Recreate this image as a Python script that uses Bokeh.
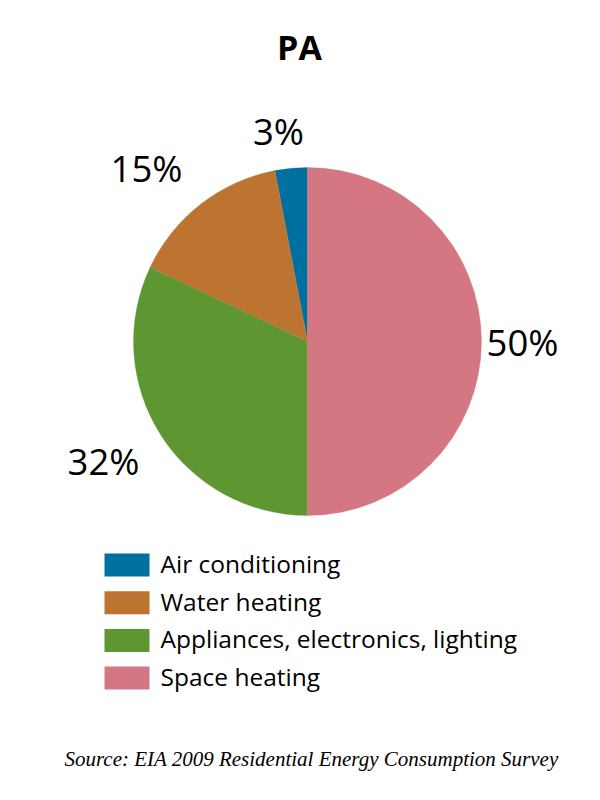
import math
from bokeh.plotting import figure
from bokeh.models import ColumnDataSource, Range1d
from bokeh.core.properties import value
from bokeh.embed import file_html
from bokeh.resources import INLINE

# ---- data ----
title_text = "PA"
categories = ["Air conditioning", "Water heating", "Appliances, electronics, lighting", "Space heating"]
shares = [3, 15, 32, 50]
colors = ["#0070A0", "#BD7430", "#5E9632", "#D47783"]
source_note = "Source: EIA 2009 Residential Energy Consumption Survey"

# ---- layout ----
W, H = 584, 784
cx, cy = 307, H - 341          # pie centre (pixel-like data units)
R = 174
# label offsets from pie centre (layout only), in order of categories
label_offsets = [(-29, 211), (-161, 174), (-204, -119), (215, 0)]

total = float(sum(shares))
starts, ends, acc = [], [], 0.0
for s in shares:
    a0 = math.pi / 2 + 2 * math.pi * acc / total
    acc += s
    a1 = math.pi / 2 + 2 * math.pi * acc / total
    starts.append(a0)
    ends.append(a1)

pie_src = ColumnDataSource(dict(start=starts, end=ends, color=colors, cat=categories))

p = figure(width=W, height=H, output_backend="svg", toolbar_location=None,
           x_range=Range1d(0, W), y_range=Range1d(0, H), min_border=0)
p.axis.visible = False
p.grid.visible = False
p.outline_line_color = None
p.background_fill_color = "white"
p.border_fill_color = "white"

p.wedge(x=cx, y=cy, radius=R, start_angle="start", end_angle="end",
        direction="anticlock", fill_color="color", line_color="color",
        line_width=0.3, source=pie_src)

lab_src = ColumnDataSource(dict(
    x=[cx + dx for dx, dy in label_offsets],
    y=[cy + dy for dx, dy in label_offsets],
    t=["%d%%" % s for s in shares]))
p.text(x="x", y="y", text="t", source=lab_src, text_font=value("Open Sans"),
       text_font_size="36.5px", text_align="center", text_baseline="middle",
       text_color="black")

# title
p.text(x=[299], y=[H - 46], text=[title_text], text_font=value("Open Sans"),
       text_font_size="34px", text_font_style="bold", text_align="center",
       text_baseline="middle", text_color="black")

# legend (manual)
row0 = H - 564.5
pitch = 37.7
leg_y = [row0 - i * pitch for i in range(len(categories))]
leg_src = ColumnDataSource(dict(y=leg_y, ty=[v + 1.5 for v in leg_y],
                                color=colors, cat=categories))
p.rect(x=126.5, y="y", width=45, height=23, fill_color="color",
       line_color=None, source=leg_src)
p.text(x=160, y="ty", text="cat", source=leg_src, text_font=value("Open Sans"),
       text_font_size="24.5px", text_align="left", text_baseline="middle",
       text_color="black")

# source note
p.text(x=[311], y=[H - 758], text=[source_note], text_font=value("Liberation Serif"),
       text_font_size="21px", text_font_style="italic", text_align="center",
       text_baseline="middle", text_color="black")

open("out.html", "w").write(file_html(p, INLINE))
